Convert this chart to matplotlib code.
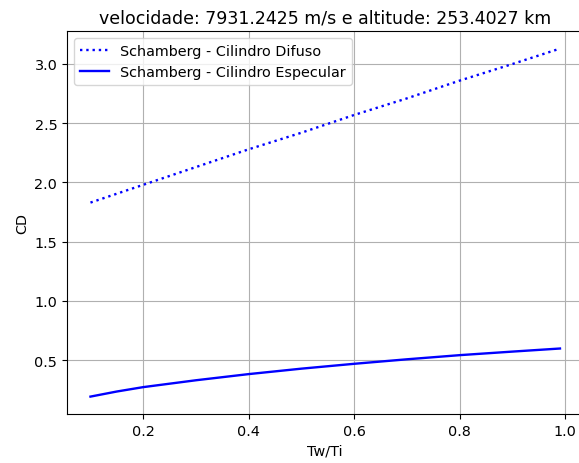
import matplotlib
matplotlib.use("Agg")
import matplotlib.pyplot as plt

# Wall-to-incident temperature ratio
tw_ti = [0.10, 0.15, 0.20, 0.30, 0.40, 0.50, 0.60, 0.70, 0.80, 0.90, 0.99]

# Drag coefficients (Schamberg model, cylinder)
cd_difuso = [1.83, 1.905, 1.98, 2.13, 2.28, 2.42, 2.57, 2.71, 2.86, 3.00, 3.13]
cd_especular = [0.192, 0.235, 0.272, 0.330, 0.382, 0.428, 0.469, 0.507, 0.542, 0.572, 0.598]

titulo = "velocidade: 7931.2425 m/s e altitude: 253.4027 km"

fig = plt.figure(figsize=(5.79, 4.64), dpi=100)
ax = fig.add_axes([0.1157, 0.1056, 0.892, 0.825])

ax.plot(tw_ti, cd_difuso, color="blue", linestyle=":", linewidth=1.7,
        label="Schamberg - Cilindro Difuso")
ax.plot(tw_ti, cd_especular, color="blue", linestyle="-", linewidth=1.7,
        label="Schamberg - Cilindro Especular")

ax.set_title(titulo, fontsize=12.5, pad=6.5)
ax.set_xlabel("Tw/Ti", fontsize=10.4)
ax.set_ylabel("CD", fontsize=10.4)
ax.tick_params(labelsize=10.4)
ax.grid(True)
ax.legend(loc="upper left", fontsize=10.4)

fig.savefig("out.png", dpi=100)
